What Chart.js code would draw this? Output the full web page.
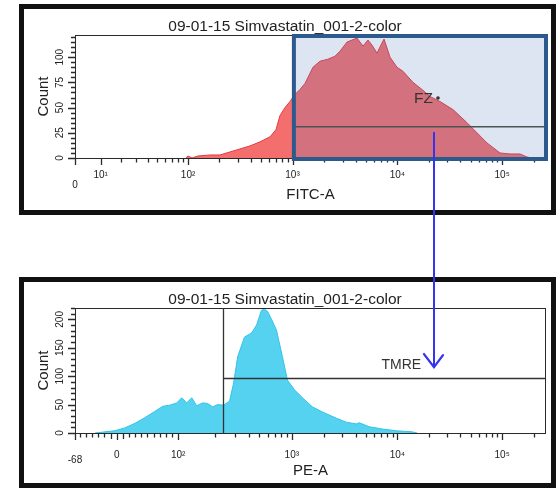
<!DOCTYPE html>
<html><head><meta charset="utf-8">
<script src="https://cdn.jsdelivr.net/npm/chart.js@4.4.1/dist/chart.umd.min.js"></script>
<style>
html,body{margin:0;padding:0;background:#fff;}
body{width:556px;height:488px;position:relative;overflow:hidden;}
.panel{position:absolute;left:19px;width:537px;height:211px;border:5px solid #111;box-sizing:border-box;}
#p1{top:4px}#p2{top:277px}
canvas{position:absolute;}
#c1{left:24px;top:9px;width:527px;height:200px;}
#c2{left:24px;top:282px;width:527px;height:199px;}
#ov{left:0;top:0;width:556px;height:488px;pointer-events:none;}
</style></head><body>
<div class="panel" id="p1"></div><div class="panel" id="p2"></div>
<canvas id="c1" width="527" height="200"></canvas>
<canvas id="c2" width="527" height="199"></canvas>
<canvas id="ov" width="556" height="488"></canvas>
<script>
// ---------------- data ----------------
const sampleTitle = '09-01-15 Simvastatin_001-2-color';

// FITC-A histogram: bin position on the displayed (logicle) axis, in decades, and event counts
const fitcBinPos = [1.984, 2.002, 2.041, 2.098, 2.212, 2.308, 2.403, 2.499, 2.594, 2.690, 2.785, 2.842, 2.880, 2.928, 2.976, 3.014, 3.071, 3.119, 3.195, 3.262, 3.338, 3.405, 3.453, 3.520, 3.567, 3.615, 3.672, 3.720, 3.758, 3.806, 3.834, 3.873, 3.930, 3.997, 4.054, 4.150, 4.235, 4.312, 4.407, 4.531, 4.665, 4.760, 4.855, 4.980, 5.075, 5.171, 5.237, 5.285];
const fitcCounts = [0, 2, 0, 2, 3, 3, 6, 9, 12, 16, 21, 28, 42, 50, 56, 62, 68, 74, 90, 96, 98, 101, 106, 115, 117, 119, 111, 117, 112, 104, 110, 118, 100, 90, 86, 75, 68, 61, 56, 48, 35, 25, 15, 5, 4, 4, 1, 0];

// PE-A histogram
const peBinPos = [1.112, 1.207, 1.302, 1.397, 1.493, 1.588, 1.683, 1.759, 1.826, 1.893, 1.940, 1.988, 2.036, 2.083, 2.140, 2.188, 2.236, 2.283, 2.340, 2.397, 2.436, 2.474, 2.540, 2.607, 2.655, 2.702, 2.731, 2.760, 2.798, 2.845, 2.902, 2.950, 3.017, 3.093, 3.188, 3.283, 3.417, 3.512, 3.607, 3.636, 3.731, 3.855, 3.988, 4.140, 4.188];
const peCounts = [0, 2, 4, 9, 17, 27, 38, 47, 49, 53, 62, 53, 62, 48, 53, 52, 46, 50, 49, 56, 88, 134, 169, 176, 190, 216, 218, 214, 200, 181, 134, 93, 76, 62, 46, 37, 26, 19, 16, 18, 11, 7, 4, 2, 0];

// axis ticks
const fitcTickValues = [0, 10, 100, 1000, 10000, 100000];
const fitcTickLabels = ['0', '10¹', '10²', '10³', '10⁴', '10⁵'];
const peTickValues = [-68, 0, 100, 1000, 10000, 100000];
const peTickLabels = ['-68', '0', '10²', '10³', '10⁴', '10⁵'];
const fitcCountLabels = [0, 25, 50, 75, 100];
const peCountLabels = [0, 50, 100, 150, 200];
const fitcCountMax = 122;
const peCountMax = 220;
const axisMaxValue = 262144;

// gates
const fzGateLow = 1030;     // FITC value where FZ gate starts
const fzGateLevel = 31;     // count level of FZ gate bar
const fzLabelPos = 4.388;   // FZ label anchor (display decades)
const fzLabelCount = 59.5;
const tmreGateLow = 234;    // PE value where TMRE gate starts
const tmreGateLevel = 97;
const tmreLabelPos = 4.226;
const tmreLabelCount = 120;
const arrowFitc = 22400;    // FITC value at which the linking arrow runs
const arrowTipCount = 116;  // count on the PE plot where the arrow ends

// ---------------- display transforms ----------------
const FITC_W = 8.4;
function fitcPos(v) { return Math.asinh(v / (2 * FITC_W)) / Math.LN10 + Math.log10(FITC_W); }
function pePos(v) { return v <= 100 ? Math.log10(80.5) + (v - 100) * 0.00586 : Math.log10(v - 19.5); }

const FONT = '"Liberation Sans", Arial, Helvetica, sans-serif';
Chart.defaults.font.family = FONT;

function buildXTicks(values, labels, minor, mid, pos, dropLabel) {
  const t = [];
  values.forEach((v, i) => t.push({ value: pos(v), major: true, text: labels[i], drop: labels[i] === dropLabel }));
  minor.forEach(v => t.push({ value: pos(v), major: false, mid: mid.includes(v), text: '' }));
  return t.sort((a, b) => a.value - b.value);
}
function logMinors(lo, max) {
  const out = [];
  for (let d = lo; d <= max; d *= 10) for (let k = 2; k <= 9; k++) if (k * d <= max) out.push(k * d);
  return out;
}
function buildYTicks(labels, step, max) {
  const t = [];
  for (let v = 0; v <= max + 1e-9; v += step) t.push({ value: v, major: labels.includes(v), text: labels.includes(v) ? String(v) : '' });
  return t;
}

const fitcXTicks = buildXTicks(fitcTickValues, fitcTickLabels, logMinors(10, axisMaxValue), [], fitcPos, '0');
const peXTicks = buildXTicks(peTickValues, peTickLabels,
  [-60, -50, -40, -30, -20, -10, 10, 20, 30, 40, 50, 60, 70, 80, 90].concat(logMinors(100, axisMaxValue)), [-10, 10], pePos, '-68');
const fitcYTicks = buildYTicks(fitcCountLabels, 5, fitcCountMax);
const peYTicks = buildYTicks(peCountLabels, 10, peCountMax);

// ---------------- plugins ----------------
const axisPlugin = {
  id: 'cytoAxes',
  afterDatasetsDraw(chart) {
    const { ctx, chartArea: ca, scales: { x, y } } = chart;
    ctx.save();
    ctx.strokeStyle = '#2a2a2a';
    ctx.lineWidth = 1;
    ctx.strokeRect(Math.round(ca.left) + 0.5, Math.round(ca.top) + 0.5, Math.round(ca.right - ca.left) - 1, Math.round(ca.bottom - ca.top));
    ctx.lineWidth = 1.3;
    ctx.beginPath();
    x.ticks.forEach(t => {
      const px = Math.round(x.getPixelForValue(t.value)) + 0.5;
      const len = t.major ? 7 : (t.mid ? 6 : 4.5);
      ctx.moveTo(px, ca.bottom); ctx.lineTo(px, ca.bottom + len);
    });
    y.ticks.forEach(t => {
      const py = Math.round(y.getPixelForValue(t.value)) + 0.5;
      const len = t.major ? 7 : 4;
      ctx.moveTo(ca.left - len, py); ctx.lineTo(ca.left, py);
    });
    ctx.stroke();
    ctx.restore();
  }
};

const fzGatePlugin = {
  id: 'fzGate',
  afterDatasetsDraw(chart) {
    const { ctx, chartArea: ca, scales: { x, y } } = chart;
    const xl = x.getPixelForValue(fitcPos(fzGateLow));
    const gy = y.getPixelForValue(fzGateLevel);
    ctx.save();
    ctx.fillStyle = 'rgba(85,125,190,0.2)';
    ctx.fillRect(xl, ca.top, ca.right - xl, ca.bottom - ca.top);
    ctx.strokeStyle = '#4a5454';
    ctx.lineWidth = 1.5;
    ctx.beginPath(); ctx.moveTo(xl, gy); ctx.lineTo(ca.right, gy); ctx.stroke();
    ctx.strokeStyle = '#2c5a8c';
    ctx.lineWidth = 4;
    ctx.strokeRect(xl, ca.top + 1, ca.right - xl, ca.bottom - ca.top);
    const lx = x.getPixelForValue(fzLabelPos), ly = y.getPixelForValue(fzLabelCount);
    ctx.fillStyle = '#333';
    ctx.font = '15.5px ' + FONT;
    ctx.textAlign = 'right'; ctx.textBaseline = 'middle';
    ctx.fillText('FZ', lx - 5, ly + 1);
    ctx.beginPath(); ctx.arc(lx, ly, 1.8, 0, Math.PI * 2); ctx.fill();
    ctx.restore();
  }
};

const tmreGatePlugin = {
  id: 'tmreGate',
  afterDatasetsDraw(chart) {
    const { ctx, chartArea: ca, scales: { x, y } } = chart;
    const xl = Math.round(x.getPixelForValue(pePos(tmreGateLow))) + 0.5;
    const gy = Math.round(y.getPixelForValue(tmreGateLevel)) + 0.5;
    ctx.save();
    ctx.strokeStyle = '#333';
    ctx.lineWidth = 1.3;
    ctx.beginPath();
    ctx.moveTo(xl, ca.top); ctx.lineTo(xl, ca.bottom);
    ctx.moveTo(xl, gy); ctx.lineTo(ca.right, gy);
    ctx.stroke();
    ctx.fillStyle = '#333';
    ctx.font = '14px ' + FONT;
    ctx.textAlign = 'right'; ctx.textBaseline = 'middle';
    ctx.fillText('TMRE', x.getPixelForValue(tmreLabelPos), y.getPixelForValue(tmreLabelCount));
    ctx.restore();
  }
};

// ---------------- chart factory ----------------
function buildChart(id, cfg) {
  return new Chart(document.getElementById(id), {
    type: 'line',
    data: {
      datasets: [{
        data: cfg.pos.map((p, i) => ({ x: p, y: cfg.counts[i] })),
        fill: 'origin',
        backgroundColor: cfg.fill,
        borderColor: cfg.line,
        borderWidth: 1,
        pointRadius: 0,
        tension: 0
      }]
    },
    options: {
      responsive: false,
      animation: false,
      devicePixelRatio: 1,
      layout: { padding: { left: 0, right: 5, top: 0, bottom: 0 } },
      plugins: {
        legend: { display: false },
        tooltip: { enabled: false },
        title: { display: true, text: sampleTitle, color: '#222', font: { family: FONT, size: 15.5, lineHeight: 1, weight: 'normal' }, padding: { top: 10, bottom: 0.5 } }
      },
      scales: {
        x: {
          type: 'linear',
          min: cfg.xMin, max: cfg.xMax,
          grid: { display: false, drawTicks: false },
          border: { display: false },
          afterBuildTicks: s => { s.ticks = cfg.xTicks; },
          afterFit: s => { s.height = cfg.xAxisHeight; },
          ticks: {
            autoSkip: false, minRotation: 0, maxRotation: 0, padding: cfg.xPad, color: '#222',
            callback: (v, i, t) => t[i].text,
            font: c => ({ family: FONT, size: 10, lineHeight: (c.tick && c.tick.drop) ? cfg.dropLh : '12px' })
          },
          title: { display: true, text: cfg.xTitle, color: '#222', font: { family: FONT, size: 15, lineHeight: 1.2 }, padding: { top: 0, bottom: cfg.xTitlePad } }
        },
        y: {
          type: 'linear',
          min: 0, max: cfg.yMax,
          grid: { display: false, drawTicks: false },
          border: { display: false },
          afterBuildTicks: s => { s.ticks = cfg.yTicks; },
          afterFit: s => { s.width = 51; },
          ticks: {
            autoSkip: false, minRotation: 90, maxRotation: 90, crossAlign: 'center', padding: 6.7, color: '#222',
            font: { family: FONT, size: 10 },
            callback: (v, i, t) => t[i].text
          },
          title: { display: true, text: 'Count', color: '#222', font: { family: FONT, size: 15, lineHeight: 1.2 }, padding: { top: 11, bottom: 0 } }
        }
      }
    },
    plugins: [axisPlugin, cfg.gate]
  });
}

const topChart = buildChart('c1', {
  pos: fitcBinPos, counts: fitcCounts, fill: '#f46e6e', line: '#e23a3f',
  xMin: fitcPos(0), xMax: fitcPos(axisMaxValue), xTicks: fitcXTicks, xAxisHeight: 51, xPad: 11, dropLh: '32px',
  xTitle: 'FITC-A', xTitlePad: 5, yMax: fitcCountMax, yTicks: fitcYTicks, gate: fzGatePlugin
});
const botChart = buildChart('c2', {
  pos: peBinPos, counts: peCounts, fill: '#55d2f0', line: '#35c2e6',
  xMin: pePos(-68), xMax: pePos(axisMaxValue), xTicks: peXTicks, xAxisHeight: 48, xPad: 16, dropLh: '23px',
  xTitle: 'PE-A', xTitlePad: 1, yMax: peCountMax, yTicks: peYTicks, gate: tmreGatePlugin
});

// ---------------- linking arrow ----------------
(function drawArrow() {
  const ov = document.getElementById('ov').getContext('2d');
  const r1 = topChart.canvas.getBoundingClientRect();
  const r2 = botChart.canvas.getBoundingClientRect();
  const ax = Math.round(r1.left + topChart.scales.x.getPixelForValue(fitcPos(arrowFitc)));
  const y1 = r1.top + topChart.scales.y.getPixelForValue(fzGateLevel) + 6;
  const y2 = r2.top + botChart.scales.y.getPixelForValue(arrowTipCount);
  ov.strokeStyle = '#3434ec';
  ov.lineWidth = 2;
  ov.lineCap = 'round';
  ov.beginPath();
  ov.moveTo(ax, y1); ov.lineTo(ax, y2);
  ov.stroke();
  ov.lineWidth = 2.3;
  ov.beginPath();
  ov.moveTo(ax - 10, y2 - 13); ov.lineTo(ax, y2); ov.lineTo(ax + 9, y2 - 12);
  ov.stroke();
})();
</script></body></html>
